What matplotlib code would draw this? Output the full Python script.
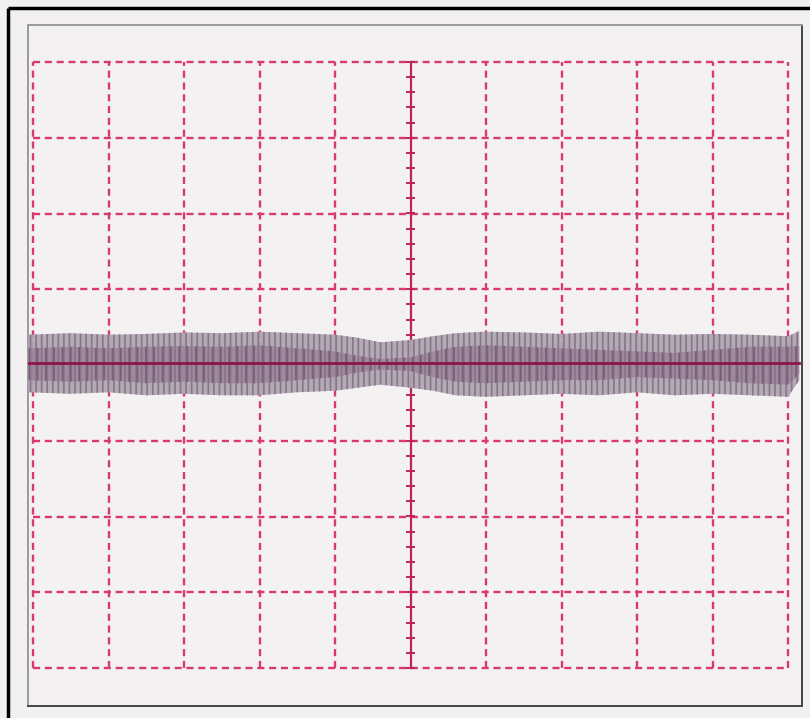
import numpy as np
import matplotlib.pyplot as plt
from matplotlib.lines import Line2D

plt.rcParams['hatch.linewidth'] = 1.2

# screen divisions (scope graticule: 10 x 8 div)
x_div = [-5, -4, -3, -2, -1, 0, 1, 2, 3, 4, 5]
y_div = [-4, -3, -2, -1, 0, 1, 2, 3, 4]

# noise band envelope (in divisions)
trace_x = [-5.06, -4.5, -4.0, -3.5, -3.0, -2.5, -2.0, -1.5, -1.0, -0.7, -0.4, 0.0,
           0.3, 0.6, 1.0, 1.5, 2.0, 2.5, 3.0, 3.5, 4.0, 4.5, 5.0, 5.15]
trace_hi = [0.40, 0.42, 0.40, 0.41, 0.43, 0.42, 0.44, 0.42, 0.40, 0.36, 0.30, 0.33,
            0.38, 0.42, 0.44, 0.43, 0.41, 0.44, 0.42, 0.40, 0.41, 0.40, 0.38, 0.45]
trace_lo = [-0.36, -0.38, -0.36, -0.40, -0.38, -0.40, -0.40, -0.36, -0.34, -0.30, -0.26, -0.30,
            -0.34, -0.40, -0.42, -0.40, -0.38, -0.40, -0.36, -0.40, -0.38, -0.40, -0.42, -0.20]
# darker core of the band
core_hi = [0.22, 0.24, 0.22, 0.24, 0.25, 0.24, 0.26, 0.22, 0.18, 0.12, 0.08, 0.10,
           0.18, 0.24, 0.26, 0.24, 0.22, 0.20, 0.18, 0.16, 0.20, 0.24, 0.24, 0.25]
core_lo = [-0.20, -0.22, -0.20, -0.24, -0.22, -0.24, -0.24, -0.20, -0.16, -0.10, -0.06, -0.08,
           -0.16, -0.22, -0.24, -0.22, -0.20, -0.20, -0.16, -0.18, -0.20, -0.24, -0.26, -0.12]
center_y = 0.03

W, H = 810, 718
fig = plt.figure(figsize=(W / 100, H / 100), dpi=100)
fig.patch.set_facecolor('#f2f0f1')
fig.patch.set_linewidth(0)

# black scan border, top and left only
fig.add_artist(Line2D([8 / W, 1.0], [1 - 8 / H, 1 - 8 / H], color='black', lw=2.5,
                      solid_capstyle='butt'))
fig.add_artist(Line2D([8 / W, 8 / W], [0, 1 - 8 / H], color='black', lw=2.5,
                      solid_capstyle='butt'))

# axes = inner frame, pixels 28..802 x 25..706
ax = fig.add_axes([28 / W, (H - 706) / H, (802 - 28) / W, (706 - 25) / H])
ax.set_facecolor('#f3f1f2')
ax.set_xlim((28 - 410.5) / 75.5, (802 - 410.5) / 75.5)
ax.set_ylim((365 - 706) / 75.75, (365 - 25) / 75.75)
ax.set_xticks([])
ax.set_yticks([])
for s in ['top', 'left']:
    ax.spines[s].set_color('#9a9a9a')
    ax.spines[s].set_linewidth(1.4)
for s in ['right', 'bottom']:
    ax.spines[s].set_color('#444444')
    ax.spines[s].set_linewidth(1.4)

grid_col = '#d8396f'
# graticule
for xv in x_div:
    if xv == 0:
        continue
    ax.plot([xv, xv], [y_div[0], y_div[-1]], color=grid_col, lw=1.7, ls=(0, (3, 2)))
for yv in y_div:
    ax.plot([x_div[0], x_div[-1]], [yv, yv], color=grid_col, lw=1.7, ls=(0, (3, 2)))

# center vertical axis with 0.2 div ticks
ax.plot([0, 0], [y_div[0], y_div[-1]], color='#c0235a', lw=1.6)
ticks = np.arange(y_div[0], y_div[-1] + 0.01, 0.2)
for t in ticks:
    ax.plot([-0.05, 0.05], [t, t], color='#c0235a', lw=1.4)

# noise band
ax.fill_between(trace_x, trace_lo, trace_hi, facecolor='#b0a6b0', edgecolor='#84728a',
                hatch='|||', lw=0, alpha=0.95, zorder=3)
ax.fill_between(trace_x, core_lo, core_hi, facecolor='#8c7089', edgecolor='#5f3a62',
                hatch='||', lw=0, alpha=0.55, zorder=4)
ax.plot([trace_x[0], trace_x[-1]], [center_y, center_y], color='#8e1447', lw=2.0, zorder=5)

fig.savefig('out.png', dpi=100, facecolor=fig.get_facecolor())
